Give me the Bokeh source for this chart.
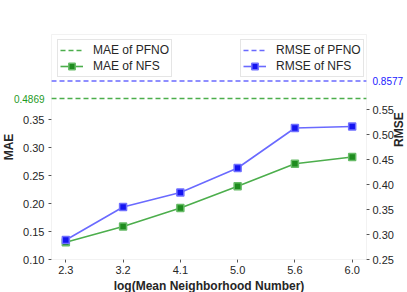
import math
from bokeh.plotting import figure
from bokeh.models import (Range1d, LinearAxis, FixedTicker, Legend, LegendItem,
                          Label, ColumnDataSource, BoxAnnotation)
from bokeh.embed import file_html
from bokeh.resources import INLINE

# ---- data ----
x_labels = ["2.3", "3.2", "4.1", "5.0", "5.6", "6.0"]
mae_nfs = [0.131, 0.159, 0.192, 0.231, 0.271, 0.283]
rmse_nfs = [0.289, 0.355, 0.384, 0.433, 0.513, 0.516]
mae_pfno = 0.4869
rmse_pfno = 0.8577
# PFNO reference lines are drawn on a broken (compressed) axis position
mae_pfno_shown = 0.3875
rmse_pfno_shown = 0.607
mae_ticks = [0.10, 0.15, 0.20, 0.25, 0.30, 0.35]
rmse_ticks = [0.25, 0.30, 0.35, 0.40, 0.45, 0.50, 0.55]

# visible axis limits
X_LO, X_HI = -0.25, len(x_labels) - 0.75
Y_LO, Y_HI = 0.10, 0.502
R_LO, R_HI = 0.25, 0.70

# ---- layout (pixels) ----
W, H = 407, 292
BOX_L, BOX_R, BOX_T, BOX_B = 51, 366, 34, 259

FONT = "Liberation Sans"
GREEN_LINE = "#4cae4c"
GREEN_MARK = "#1e8c1e"
GREEN_TXT = "#1f9a1f"
BLUE_LINE = "#6a6aff"
BLUE_MARK = "#1414f0"
BLUE_TXT = "#2020ff"
GRAY = "#d4d4d4"
TXT = "#262626"

# ranges extended so that the plotting box sits inside a full-canvas frame
ppx = (BOX_R - BOX_L) / (X_HI - X_LO)
ppy = (BOX_B - BOX_T) / (Y_HI - Y_LO)
ppr = (BOX_B - BOX_T) / (R_HI - R_LO)
x_range = Range1d(X_LO - BOX_L / ppx, X_HI + (W - BOX_R) / ppx)
y_range = Range1d(Y_LO - (H - BOX_B) / ppy, Y_HI + BOX_T / ppy)
r_range = Range1d(R_LO - (H - BOX_B) / ppr, R_HI + BOX_T / ppr)

xs = list(range(len(x_labels)))

p = figure(width=W, height=H, x_range=x_range, y_range=y_range,
           x_axis_location=None, y_axis_location=None,
           min_border=0, output_backend="svg", toolbar_location=None, tools="")
p.extra_y_ranges = {"rmse": r_range}
p.xgrid.visible = False
p.ygrid.visible = False
p.outline_line_color = None
p.background_fill_color = "white"
p.border_fill_color = "white"

def style_axis(ax):
    ax.axis_line_color = None
    ax.major_tick_line_color = "#555555"
    ax.major_tick_out = 3
    ax.major_tick_in = 0
    ax.minor_tick_line_color = None
    ax.major_label_text_font = FONT
    ax.major_label_text_font_size = "11px"
    ax.major_label_text_color = TXT
    ax.major_label_standoff = 4
    ax.axis_label_text_font = FONT
    ax.axis_label_text_font_size = "12px"
    ax.axis_label_text_font_style = "bold"
    ax.axis_label_text_color = TXT

# bottom axis
xa = LinearAxis(fixed_location=Y_LO, bounds=(X_LO, X_HI))
style_axis(xa)
xa.ticker = FixedTicker(ticks=xs)
xa.major_label_overrides = {i: s for i, s in zip(xs, x_labels)}
xa.axis_label = "log(Mean Neighborhood Number)"
xa.major_label_standoff = 3
xa.axis_label_standoff = 2
p.add_layout(xa, "below")

# left axis
ya = LinearAxis(fixed_location=X_LO, bounds=(Y_LO, Y_HI))
style_axis(ya)
ya.ticker = FixedTicker(ticks=mae_ticks)
ya.major_label_overrides = {t: f"{t:.2f}" for t in mae_ticks}
ya.axis_label = "MAE"
ya.axis_label_standoff = 4
p.add_layout(ya, "left")

# right axis
ra = LinearAxis(y_range_name="rmse", fixed_location=X_HI, bounds=(R_LO, R_HI))
style_axis(ra)
ra.ticker = FixedTicker(ticks=rmse_ticks)
ra.major_label_overrides = {t: f"{t:.2f}" for t in rmse_ticks}
ra.major_label_standoff = 3
ra.axis_label = "RMSE"
ra.axis_label_standoff = 2
if "axis_label_orientation" in ra.properties():
    ra.axis_label_orientation = math.pi / 2
p.add_layout(ra, "right")

# plotting box outline
p.add_layout(BoxAnnotation(left=X_LO, right=X_HI, bottom=Y_LO, top=Y_HI,
                           fill_alpha=0, line_color=GRAY, line_width=1))

# PFNO reference lines (across the plotting box)
g_pfno = p.line([X_LO, X_HI], [mae_pfno_shown] * 2, line_color=GREEN_LINE,
                line_width=1.5, line_dash="5 3")
b_pfno = p.line([X_LO, X_HI], [rmse_pfno_shown] * 2, y_range_name="rmse",
                line_color=BLUE_LINE, line_width=1.5, line_dash="5 3")

# NFS series
src_g = ColumnDataSource(dict(x=xs, y=mae_nfs))
src_b = ColumnDataSource(dict(x=xs, y=rmse_nfs))
g_line = p.line("x", "y", source=src_g, line_color=GREEN_LINE, line_width=1.6)
g_mark = p.scatter("x", "y", source=src_g, marker="square", size=7,
                   fill_color=GREEN_MARK, line_color="#66bb66", line_width=1.5)
b_line = p.line("x", "y", source=src_b, y_range_name="rmse", line_color=BLUE_LINE, line_width=1.6)
b_mark = p.scatter("x", "y", source=src_b, y_range_name="rmse", marker="square", size=7,
                   fill_color=BLUE_MARK, line_color="#6f6fff", line_width=1.5)

# legend-only error-bar glyphs
empty = ColumnDataSource(dict(x=[], y=[]))
g_err = p.scatter("x", "y", source=empty, marker="dash", angle=math.pi / 2, size=11,
                  line_color=GREEN_MARK, line_width=1.5)
b_err = p.scatter("x", "y", source=empty, marker="dash", angle=math.pi / 2, size=11,
                  line_color=BLUE_MARK, line_width=1.5)

LEG_ROW, LEG_PAD = 16, 2
LEG_H = 2 * LEG_ROW + 2 * LEG_PAD
LEG_TOP = 41

def make_legend(items, left_px):
    lg = Legend(items=items, location=(left_px, H - LEG_TOP - LEG_H))
    lg.label_text_font = FONT
    lg.label_text_font_size = "12px"
    lg.label_text_color = TXT
    lg.glyph_width = 23
    lg.glyph_height = LEG_ROW
    lg.label_height = LEG_ROW
    lg.spacing = 0
    lg.padding = LEG_PAD
    lg.margin = 0
    lg.label_standoff = 10
    lg.border_line_color = "#cccccc"
    lg.border_line_width = 1
    lg.background_fill_alpha = 0.85
    return lg

leg_l = make_legend([LegendItem(label="MAE of PFNO", renderers=[g_pfno]),
                     LegendItem(label="MAE of NFS", renderers=[g_line, g_err, g_mark])], 57)
leg_r = make_legend([LegendItem(label="RMSE of PFNO", renderers=[b_pfno]),
                     LegendItem(label="RMSE of NFS", renderers=[b_line, b_err, b_mark])], 240)
p.add_layout(leg_l, "center")
p.add_layout(leg_r, "center")

# broken-axis value labels
p.add_layout(Label(x=X_LO, y=mae_pfno_shown, text=f"{mae_pfno:.4f}",
                   text_align="right", text_baseline="middle", x_offset=-7,
                   text_font=FONT, text_font_size="10px", text_color=GREEN_TXT))
p.add_layout(Label(x=X_HI, y=rmse_pfno_shown, y_range_name="rmse", text=f"{rmse_pfno:.4f}",
                   text_align="left", text_baseline="middle", x_offset=6,
                   text_font=FONT, text_font_size="10px", text_color=BLUE_TXT))

open("out.html", "w").write(file_html(p, INLINE))
